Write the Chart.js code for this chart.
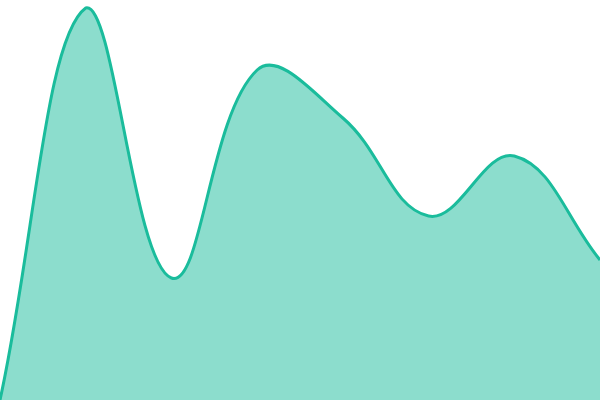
<!DOCTYPE html>
<html>
<head>
<meta charset="utf-8">
<script src="https://cdn.jsdelivr.net/npm/chart.js@4"></script>
<style>
  html, body { margin: 0; padding: 0; background: #fff; }
  #wrap { width: 600px; height: 400px; }
</style>
</head>
<body>
<div id="wrap"><canvas id="chart"></canvas></div>
<script>
/* ── Data ─────────────────────────────────────────────────────────────── */
const labels = ['1', '2', '3', '4', '5', '6', '7', '8'];
const values = [0, 98, 30.5, 82.5, 70.5, 46, 61, 35];

/* ── Chart ────────────────────────────────────────────────────────────── */
const ctx = document.getElementById('chart').getContext('2d');
new Chart(ctx, {
  type: 'line',
  data: {
    labels: labels,
    datasets: [{
      data: values,
      borderColor: '#1abc9c',
      backgroundColor: 'rgba(26,188,156,0.5)',
      borderWidth: 3,
      pointRadius: 0,
      tension: 0.4,
      fill: true,
    }],
  },
  options: {
    responsive: true,
    maintainAspectRatio: false,
    animation: false,
    layout: { padding: 0 },
    plugins: { legend: { display: false }, tooltip: { enabled: false } },
    scales: {
      x: { display: false, offset: false },
      y: { display: false, min: 0, max: 100 },
    },
  },
});
</script>
</body>
</html>
